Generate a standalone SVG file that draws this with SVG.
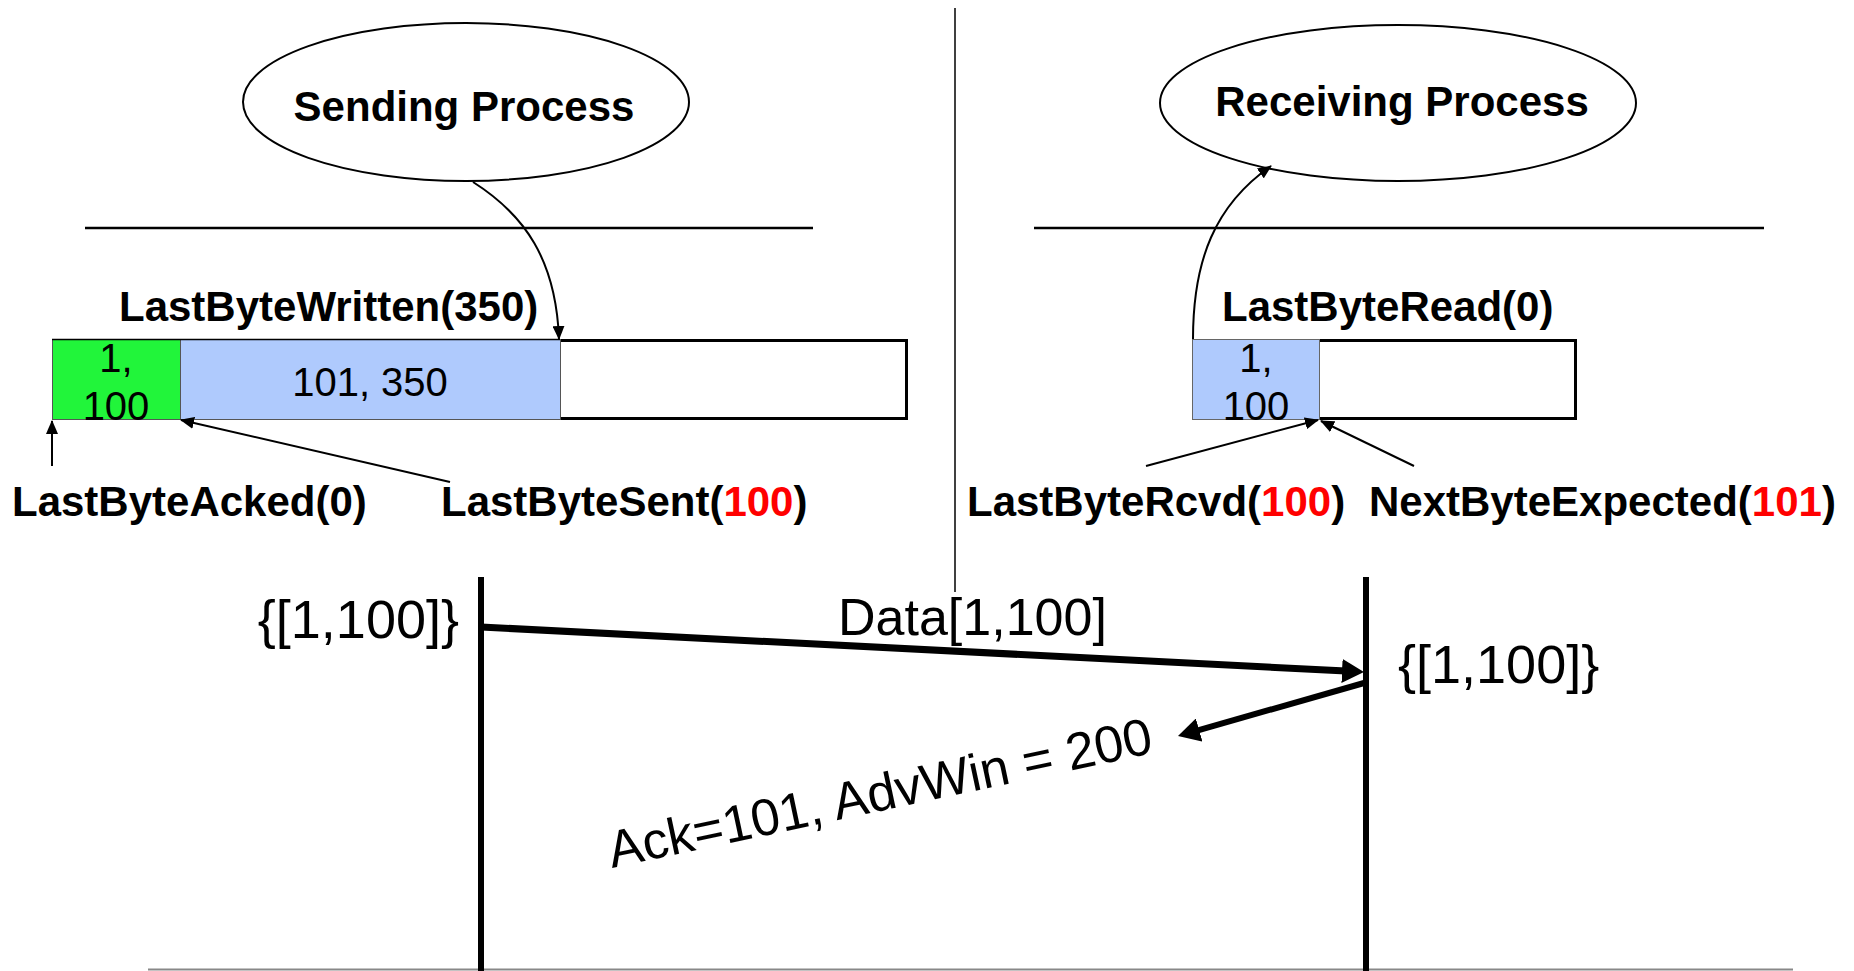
<svg xmlns="http://www.w3.org/2000/svg" width="1854" height="971" viewBox="0 0 1854 971">
<style>
.bold{font-family:"Liberation Sans",Arial,sans-serif;font-weight:bold;font-size:42px;fill:#000}
.reg{font-family:"Liberation Sans",Arial,sans-serif;font-size:40px;fill:#000}
.big{font-family:"Liberation Sans",Arial,sans-serif;font-size:52px;fill:#000}
.brace{font-family:"Liberation Sans",Arial,sans-serif;font-size:54px;fill:#000}
.red{fill:#ff0000}
.thin{fill:none;stroke:#000;stroke-width:2}
.thick{fill:none;stroke:#000;stroke-width:7}
.life{stroke:#000;stroke-width:6}
.hline{stroke:#000;stroke-width:2.5}
</style>
<defs>
<marker id="ah" viewBox="0 0 14 12" refX="13" refY="6" markerWidth="14" markerHeight="12" markerUnits="userSpaceOnUse" orient="auto">
<path d="M0,0 L14,6 L0,12 z" fill="#000"/>
</marker>
<marker id="ahBig" viewBox="0 0 22 24" refX="4" refY="12" markerWidth="22" markerHeight="24" markerUnits="userSpaceOnUse" orient="auto">
<path d="M0,0 L22,12 L0,24 z" fill="#000"/>
</marker>
</defs>
<rect width="1854" height="971" fill="#fff"/>

<g id="dividers">
<line x1="955" y1="8" x2="955" y2="592" stroke="#000" stroke-width="1.5"/>
<line class="hline" x1="85" y1="228" x2="813" y2="228"/>
<line class="hline" x1="1034" y1="228" x2="1764" y2="228"/>
<line x1="148" y1="969.5" x2="1793" y2="969.5" stroke="#888" stroke-width="2"/>
</g>

<g id="node-sending-process">
<ellipse cx="466" cy="102" rx="223" ry="79" fill="#fff" stroke="#000" stroke-width="2"/>
<text class="bold" x="464" y="121" text-anchor="middle">Sending Process</text>
</g>

<g id="node-receiving-process">
<ellipse cx="1398" cy="103" rx="238" ry="78" fill="#fff" stroke="#000" stroke-width="2"/>
<text class="bold" x="1402" y="116" text-anchor="middle">Receiving Process</text>
</g>

<g id="node-send-buffer">
<rect x="53.5" y="340.5" width="853" height="78" fill="#fff" stroke="#000" stroke-width="3"/>
<rect x="52.5" y="339.5" width="128" height="80" fill="#21f53a" stroke="#555" stroke-width="1"/>
<rect x="180.5" y="339.5" width="380" height="80" fill="#afcafd" stroke="#555" stroke-width="1"/>
<line x1="52" y1="339.5" x2="560" y2="339.5" stroke="#000" stroke-width="1.5"/>
<text class="reg" x="116" y="372" text-anchor="middle">1,</text>
<text class="reg" x="116" y="420" text-anchor="middle">100</text>
<text class="reg" x="370" y="396" text-anchor="middle">101, 350</text>
</g>

<g id="node-recv-buffer">
<rect x="1193.5" y="340.5" width="382" height="78" fill="#fff" stroke="#000" stroke-width="3"/>
<rect x="1192.5" y="339.5" width="127" height="80" fill="#afcafd" stroke="#666" stroke-width="1"/>
<text class="reg" x="1256" y="372" text-anchor="middle">1,</text>
<text class="reg" x="1256" y="420" text-anchor="middle">100</text>
</g>

<g id="labels">
<text class="bold" x="119" y="321">LastByteWritten(350)</text>
<text class="bold" x="1222" y="321">LastByteRead(0)</text>
<text class="bold" x="12" y="516">LastByteAcked(0)</text>
<text class="bold" x="441" y="516">LastByteSent(<tspan class="red">100</tspan>)</text>
<text class="bold" x="967" y="516">LastByteRcvd(<tspan class="red">100</tspan>)</text>
<text class="bold" x="1369" y="516">NextByteExpected(<tspan class="red">101</tspan>)</text>
</g>

<g id="lifelines">
<line class="life" x1="481" y1="577" x2="481" y2="971"/>
<line class="life" x1="1366" y1="577" x2="1366" y2="971"/>
</g>

<g id="message-labels">
<text class="brace" x="459" y="638" text-anchor="end">{[1,100]}</text>
<text class="brace" x="1398" y="683">{[1,100]}</text>
<text class="big" x="838" y="635">Data[1,100]</text>
<text class="big" x="612" y="868" font-size="53" transform="rotate(-12 612 868)">Ack=101, AdvWin = 200</text>
</g>

<g id="connectors">
<path class="thin" d="M473,182 C525,215 556,260 559,339" marker-end="url(#ah)"/>
<path class="thin" d="M1193,339 C1193,260 1215,205 1271,166" marker-end="url(#ah)"/>
<line class="thin" x1="52" y1="466" x2="52" y2="421" marker-end="url(#ah)"/>
<line class="thin" x1="450" y1="482" x2="181" y2="420" marker-end="url(#ah)"/>
<line class="thin" x1="1146" y1="466" x2="1318" y2="420" marker-end="url(#ah)"/>
<line class="thin" x1="1414" y1="466" x2="1321" y2="421" marker-end="url(#ah)"/>
<line class="thick" x1="481" y1="627" x2="1346" y2="671.1" marker-end="url(#ahBig)"/>
<line x1="1364" y1="683" x2="1195.3" y2="731.1" stroke="#000" stroke-width="6" marker-end="url(#ahBig)"/>
</g>
</svg>
